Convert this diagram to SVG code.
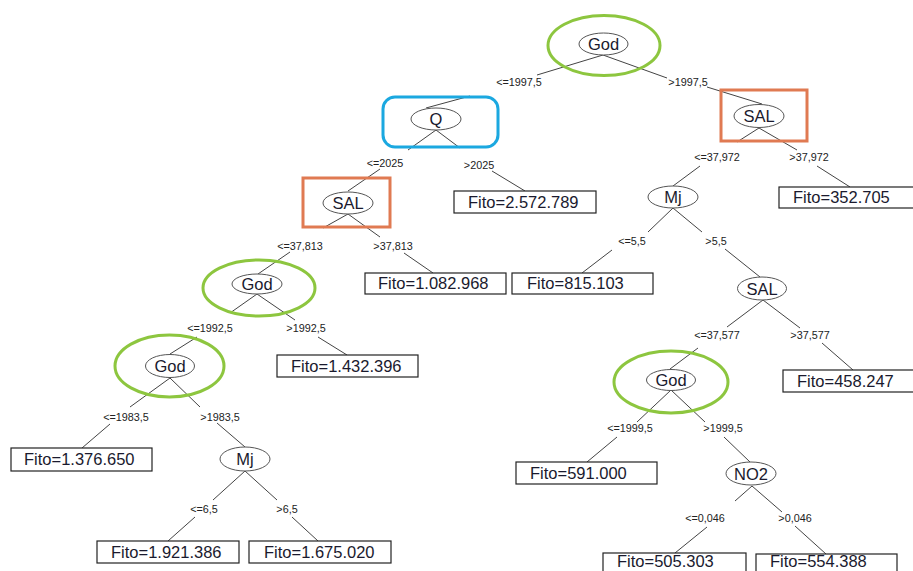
<svg xmlns="http://www.w3.org/2000/svg" width="913" height="571" viewBox="0 0 913 571">
<style>
.n{fill:#fff;stroke:#555;stroke-width:1}
.nt{font-family:"Liberation Sans",Arial,sans-serif;font-size:16.5px;fill:#1a1a2e;text-anchor:middle}
.b{fill:#fff;stroke:#222;stroke-width:1.2}
.bt{font-family:"Liberation Sans",Arial,sans-serif;font-size:16.5px;fill:#1a1a2e}
.el{font-family:"Liberation Sans",Arial,sans-serif;font-size:10.8px;fill:#222;text-anchor:middle}
.c line{stroke:#444;stroke-width:1}
.g{fill:none;stroke:#8DC63F;stroke-width:3}
.o{fill:none;stroke:#E07A52;stroke-width:3}
.q{fill:none;stroke:#1BA8E0;stroke-width:3}
</style>
<rect width="913" height="571" fill="#fff"/>
<g id="connectors" class="c">
<line x1="603" y1="55" x2="537" y2="75"/><line x1="470" y1="96" x2="426" y2="108"/>
<line x1="603" y1="55" x2="667" y2="78"/><line x1="707" y1="87" x2="762" y2="104"/>
<line x1="436" y1="130" x2="408" y2="150"/><line x1="380" y1="169" x2="348" y2="191"/>
<line x1="436" y1="130" x2="460" y2="148"/><line x1="492" y1="171" x2="525" y2="191"/>
<line x1="348" y1="214" x2="323" y2="228"/><line x1="290" y1="252" x2="258" y2="274"/>
<line x1="348" y1="214" x2="380" y2="237"/><line x1="404" y1="253" x2="433" y2="273"/>
<line x1="257" y1="294" x2="230" y2="313"/><line x1="197" y1="337" x2="170" y2="354"/>
<line x1="257" y1="294" x2="295" y2="320"/><line x1="318" y1="337" x2="347" y2="355"/>
<line x1="170" y1="378" x2="130" y2="407"/><line x1="110" y1="424" x2="82" y2="448"/>
<line x1="170" y1="378" x2="200" y2="407"/><line x1="217" y1="423" x2="245" y2="447"/>
<line x1="245" y1="471" x2="213" y2="500"/><line x1="195" y1="517" x2="168" y2="541"/>
<line x1="245" y1="471" x2="277" y2="500"/><line x1="292" y1="517" x2="318" y2="541"/>
<line x1="759" y1="128" x2="737" y2="142"/><line x1="700" y1="166" x2="673" y2="186"/>
<line x1="759" y1="128" x2="797" y2="150"/><line x1="817" y1="166" x2="850" y2="187"/>
<line x1="673" y1="208" x2="648" y2="232"/><line x1="612" y1="250" x2="582" y2="273"/>
<line x1="673" y1="208" x2="702" y2="232"/><line x1="725" y1="249" x2="760" y2="277"/>
<line x1="763" y1="300" x2="727" y2="327"/><line x1="698" y1="348" x2="670" y2="369"/>
<line x1="763" y1="300" x2="800" y2="328"/><line x1="822" y1="343" x2="853" y2="370"/>
<line x1="671" y1="390" x2="637" y2="422"/><line x1="617" y1="437" x2="587" y2="462"/>
<line x1="671" y1="390" x2="705" y2="422"/><line x1="724" y1="437" x2="750" y2="462"/>
<line x1="752" y1="486" x2="735" y2="501"/><line x1="707" y1="527" x2="675" y2="553"/>
<line x1="752" y1="486" x2="782" y2="512"/><line x1="795" y1="526" x2="826" y2="554"/>
</g>
<g id="edge-labels">
<text class="el" x="519" y="86">&lt;=1997,5</text>
<text class="el" x="688" y="86">&gt;1997,5</text>
<text class="el" x="385" y="167">&lt;=2025</text>
<text class="el" x="479" y="169">&gt;2025</text>
<text class="el" x="300" y="250">&lt;=37,813</text>
<text class="el" x="393" y="250">&gt;37,813</text>
<text class="el" x="210" y="332">&lt;=1992,5</text>
<text class="el" x="306" y="332">&gt;1992,5</text>
<text class="el" x="126" y="421">&lt;=1983,5</text>
<text class="el" x="220" y="421">&gt;1983,5</text>
<text class="el" x="204" y="513">&lt;=6,5</text>
<text class="el" x="287" y="513">&gt;6,5</text>
<text class="el" x="717" y="161">&lt;=37,972</text>
<text class="el" x="809" y="161">&gt;37,972</text>
<text class="el" x="632" y="245">&lt;=5,5</text>
<text class="el" x="716" y="245">&gt;5,5</text>
<text class="el" x="717" y="339">&lt;=37,577</text>
<text class="el" x="810" y="339">&gt;37,577</text>
<text class="el" x="630" y="432">&lt;=1999,5</text>
<text class="el" x="723" y="432">&gt;1999,5</text>
<text class="el" x="705" y="522">&lt;=0,046</text>
<text class="el" x="795" y="522">&gt;0,046</text>
</g>
<g id="node-root-god">
<ellipse class="g" cx="604" cy="45.5" rx="56" ry="30"/>
<ellipse class="n" cx="603.5" cy="44" rx="24.5" ry="11"/>
<text class="nt" x="603.5" y="50">God</text>
</g>
<g id="node-q">
<rect class="q" x="383" y="97" width="115" height="50" rx="12"/>
<ellipse class="n" cx="436" cy="119" rx="25" ry="11"/>
<text class="nt" x="436" y="125">Q</text>
</g>
<g id="node-sal-right">
<rect class="o" x="721" y="90" width="86" height="51"/>
<ellipse class="n" cx="759" cy="116" rx="25" ry="11.5"/>
<text class="nt" x="759" y="122">SAL</text>
</g>
<g id="node-sal-left">
<rect class="o" x="303" y="178" width="87" height="49"/>
<ellipse class="n" cx="348" cy="203" rx="25" ry="11"/>
<text class="nt" x="348" y="209">SAL</text>
</g>
<g id="node-god-2">
<ellipse class="g" cx="259" cy="288" rx="56" ry="28"/>
<ellipse class="n" cx="257" cy="284" rx="25" ry="10"/>
<text class="nt" x="257" y="290">God</text>
</g>
<g id="node-god-3">
<ellipse class="g" cx="169.5" cy="366" rx="54.5" ry="31"/>
<ellipse class="n" cx="170" cy="366" rx="24.5" ry="11.5"/>
<text class="nt" x="170" y="372">God</text>
</g>
<g id="node-mj-left">
<ellipse class="n" cx="245" cy="459" rx="25" ry="12"/>
<text class="nt" x="245" y="465">Mj</text>
</g>
<g id="node-mj-right">
<ellipse class="n" cx="673" cy="197" rx="25" ry="11"/>
<text class="nt" x="673" y="203">Mj</text>
</g>
<g id="node-sal-3">
<ellipse class="n" cx="762" cy="288.5" rx="24.5" ry="11.5"/>
<text class="nt" x="762" y="294.5">SAL</text>
</g>
<g id="node-god-4">
<ellipse class="g" cx="671" cy="382" rx="57" ry="31"/>
<ellipse class="n" cx="671" cy="380" rx="24.5" ry="10.5"/>
<text class="nt" x="671" y="386">God</text>
</g>
<g id="node-no2">
<ellipse class="n" cx="751" cy="473.5" rx="25" ry="11.5"/>
<text class="nt" x="751" y="479.5">NO2</text>
</g>
<g id="leaf-352705"><rect class="b" x="779" y="187" width="141" height="21"/><text class="bt" x="793" y="203">Fito=352.705</text></g>
<g id="leaf-2572789"><rect class="b" x="454" y="191" width="142" height="22"/><text class="bt" x="468" y="207.5">Fito=2.572.789</text></g>
<g id="leaf-1082968"><rect class="b" x="365" y="273" width="141" height="21"/><text class="bt" x="378" y="289">Fito=1.082.968</text></g>
<g id="leaf-815103"><rect class="b" x="512" y="273" width="141" height="21"/><text class="bt" x="527" y="289">Fito=815.103</text></g>
<g id="leaf-1432396"><rect class="b" x="277" y="355" width="141" height="22"/><text class="bt" x="291" y="371.5">Fito=1.432.396</text></g>
<g id="leaf-1376650"><rect class="b" x="11" y="448" width="141" height="23"/><text class="bt" x="24" y="465">Fito=1.376.650</text></g>
<g id="leaf-1921386"><rect class="b" x="97" y="541" width="142" height="22"/><text class="bt" x="111" y="557.5">Fito=1.921.386</text></g>
<g id="leaf-1675020"><rect class="b" x="249" y="541" width="142" height="22"/><text class="bt" x="264" y="557.5">Fito=1.675.020</text></g>
<g id="leaf-458247"><rect class="b" x="783" y="370" width="141" height="22"/><text class="bt" x="797" y="386.5">Fito=458.247</text></g>
<g id="leaf-591000"><rect class="b" x="516" y="462" width="141" height="22"/><text class="bt" x="530" y="478.5">Fito=591.000</text></g>
<g id="leaf-505303"><rect class="b" x="603" y="553" width="143" height="22"/><text class="bt" x="617" y="567">Fito=505.303</text></g>
<g id="leaf-554388"><rect class="b" x="756" y="554" width="141" height="22"/><text class="bt" x="770" y="567">Fito=554.388</text></g>
</svg>
